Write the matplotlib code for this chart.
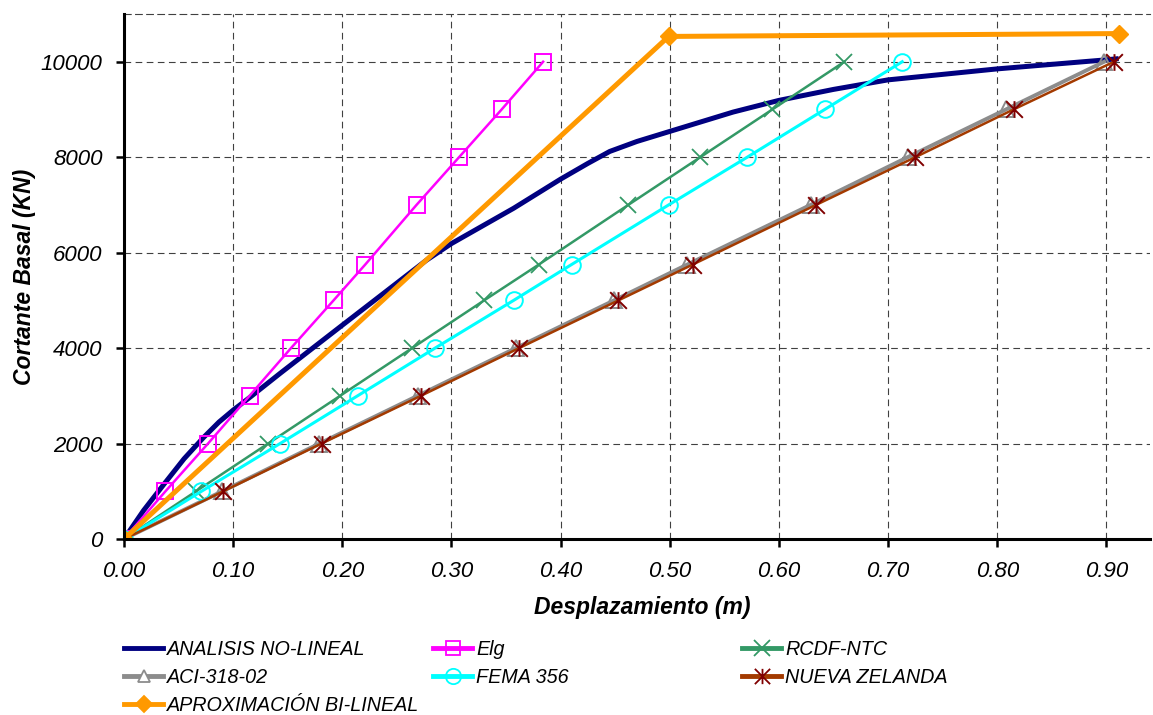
import numpy as np
import matplotlib
matplotlib.use("Agg")
import matplotlib.pyplot as plt
from matplotlib.lines import Line2D
from matplotlib.path import Path

plt.rcParams['font.family'] = ['Liberation Sans', 'DejaVu Sans']

# ==============================================================================
# data (displacement in m, base shear in kN)
fuerza = [0, 1000, 2000, 3000, 4000, 5000, 5750, 7000, 8000, 9000, 10000]

nolineal_x = [0, 0.018, 0.036, 0.055, 0.073, 0.087, 0.100, 0.116, 0.143, 0.200,
              0.234, 0.277, 0.300, 0.357, 0.400, 0.425, 0.445, 0.470, 0.500, 0.558,
              0.600, 0.650, 0.700, 0.800, 0.900, 0.909]
nolineal_y = [0, 600, 1130, 1680, 2130, 2450, 2700, 2980, 3470, 4480,
              5080, 5840, 6190, 6930, 7540, 7870, 8120, 8330, 8540, 8945,
              9190, 9420, 9620, 9850, 10040, 10060]

elg_x = [0, 0.038, 0.077, 0.115, 0.153, 0.192, 0.221, 0.268, 0.307, 0.346, 0.384]
rcdf_x = [0, 0.066, 0.132, 0.198, 0.264, 0.330, 0.380, 0.462, 0.528, 0.594, 0.660]
aci_x = [0, 0.090, 0.179, 0.269, 0.359, 0.449, 0.516, 0.629, 0.718, 0.808, 0.898]
fema_x = [0, 0.071, 0.143, 0.214, 0.285, 0.357, 0.410, 0.499, 0.571, 0.642, 0.713]
nz_x = [0, 0.091, 0.181, 0.272, 0.362, 0.453, 0.521, 0.634, 0.725, 0.815, 0.907]

bilineal_x = [0, 0.499, 0.912]
bilineal_y = [0, 10530, 10590]

xticks = [0.0, 0.1, 0.2, 0.3, 0.4, 0.5, 0.6, 0.7, 0.8, 0.9]
yticks = [0, 2000, 4000, 6000, 8000, 10000]

# ==============================================================================
# excel style star marker: X with a vertical bar
star = Path([(-1, -1), (1, 1), (-1, 1), (1, -1), (0, -1), (0, 1)],
            [Path.MOVETO, Path.LINETO, Path.MOVETO, Path.LINETO, Path.MOVETO, Path.LINETO])

NAVY = '#000080'
MAGENTA = '#FF00FF'
GREEN = '#339966'
GRAY = '#8C8C8C'
CYAN = '#00FFFF'
BROWN = '#A33A00'
DKRED = '#800000'
ORANGE = '#FF9900'

fig = plt.figure(figsize=(11.53, 7.15), dpi=100)
ax = fig.add_axes([124 / 1153, 1 - 539 / 715, 1026 / 1153, 525 / 715])

ax.plot(nolineal_x, nolineal_y, color=NAVY, lw=3.6, zorder=3)
ax.plot(elg_x, fuerza, color=MAGENTA, lw=1.8, marker='s', ms=11.5,
        mfc='none', mec=MAGENTA, mew=1.4, zorder=4)
ax.plot(rcdf_x, fuerza, color=GREEN, lw=1.8, marker='x', ms=12,
        mec=GREEN, mew=1.3, zorder=5)
ax.plot(aci_x, fuerza, color=GRAY, lw=2.8, marker='^', ms=11,
        mfc='none', mec=GRAY, mew=1.4, zorder=6)
ax.plot(fema_x, fuerza, color=CYAN, lw=2.2, marker='o', ms=12,
        mfc='none', mec=CYAN, mew=1.4, zorder=7)
ax.plot(nz_x, fuerza, color=BROWN, lw=1.8, marker=star, ms=12,
        mec=DKRED, mew=1.4, zorder=8)
ax.plot(bilineal_x, bilineal_y, color=ORANGE, lw=3.6, marker='D', ms=9,
        mfc=ORANGE, mec=ORANGE, zorder=9)

ax.set_xlim(0, 0.94)
ax.set_ylim(0, 11000)
ax.set_xticks(xticks)
ax.set_xticklabels(["%.2f" % v for v in xticks])
ax.set_yticks(yticks)
ax.set_yticklabels(["%d" % v for v in yticks])

ax.grid(True, linestyle=(0, (6, 4)), color='#404040', lw=0.8)
ax.set_axisbelow(True)

for s in ['left', 'bottom']:
    ax.spines[s].set_linewidth(2.2)
    ax.spines[s].set_zorder(10)
ax.spines['right'].set_visible(False)
ax.spines['top'].set_linestyle((0, (6, 4)))
ax.spines['top'].set_linewidth(0.8)
ax.spines['top'].set_color('#404040')

ax.tick_params(direction='out', length=6, width=1.8, labelsize=16)
ax.tick_params(axis='x', pad=10)
ax.tick_params(axis='y', pad=9.5)
for lab in ax.get_xticklabels() + ax.get_yticklabels():
    lab.set_fontstyle('italic')

ax.set_xlabel("Desplazamiento (m)", fontsize=16.5, fontweight='bold', fontstyle='italic')
ax.set_ylabel("Cortante Basal (KN)", fontsize=16.5, fontweight='bold', fontstyle='italic')
ax.xaxis.set_label_coords(0.505, -0.108)
ax.yaxis.set_label_coords(-0.086, 0.5)

# ==============================================================================
# legend, three columns placed by hand
def proxy(color, marker=None, ms=9, mfc=None, mec=None):
    return Line2D([], [], color=color, lw=3.5, marker=marker, ms=ms,
                  mfc=mfc if mfc else color, mec=mec if mec else color, mew=1.3)

columnas = [
    (124, [proxy(NAVY), proxy(GRAY, '^', 9, 'white'), proxy(ORANGE, 'D', 8)],
     ["ANALISIS NO-LINEAL", "ACI-318-02", "APROXIMACIÓN BI-LINEAL"]),
    (433, [proxy(MAGENTA, 's', 10, 'none'), proxy(CYAN, 'o', 11, 'none')],
     ["Elg", "FEMA 356"]),
    (742, [proxy(GREEN, 'x', 11), proxy(BROWN, star, 11, mec=DKRED)],
     ["RCDF-NTC", "NUEVA ZELANDA"]),
]
for x0, hs, ls in columnas:
    fig.legend(handles=hs, labels=ls, loc='upper left',
               bbox_to_anchor=(x0 / 1153, 1 - 640 / 715),
               frameon=False, borderpad=0, borderaxespad=0,
               handlelength=2.0, handletextpad=0.2, labelspacing=0.46,
               prop={'size': 14.2, 'style': 'italic'})

fig.savefig("out.png", dpi=100)
